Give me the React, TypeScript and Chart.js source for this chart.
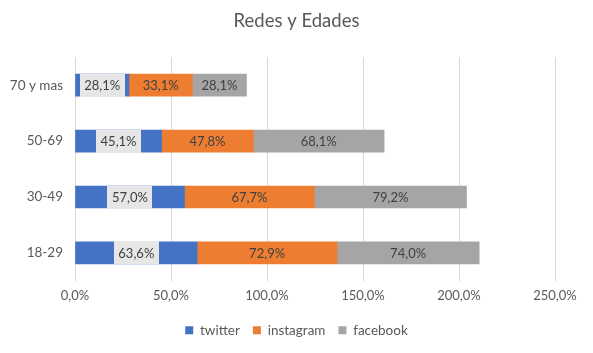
import React, { useEffect, useRef } from "react";
import { Chart, registerables } from "chart.js";

Chart.register(...registerables);

const categories = ["70 y mas", "50-69", "30-49", "18-29"];
const twitter = [28.1, 45.1, 57.0, 63.6];
const instagram = [33.1, 47.8, 67.7, 72.9];
const facebook = [28.1, 68.1, 79.2, 74.0];
const seriesNames = ["twitter", "instagram", "facebook"];
const xTicksMax = 250;
const xTickStep = 50;

const FONT = "Lato, 'Open Sans', sans-serif";
const fmt = (v: number) => v.toFixed(1).replace(".", ",") + "%";

const labelPlugin = {
  id: "segLabels",
  afterDatasetsDraw(chart: any) {
    const ctx = chart.ctx;
    ctx.save();
    ctx.font = `13px ${FONT}`;
    ctx.textAlign = "center";
    ctx.textBaseline = "middle";
    chart.data.datasets.forEach((ds: any, di: number) => {
      const meta = chart.getDatasetMeta(di);
      meta.data.forEach((bar: any, i: number) => {
        const v = ds.data[i];
        const props = bar.getProps(["x", "y", "base", "height"], true);
        const cx = (props.x + props.base) / 2;
        const cy = props.y;
        const text = fmt(v);
        if (di === 0) {
          const w = Math.round(ctx.measureText(text).width + 9);
          const top = cy - props.height / 2;
          const y0 = Math.floor(top);
          const y1 = Math.ceil(top + props.height);
          ctx.fillStyle = "#E7E6E6";
          ctx.fillRect(Math.round(cx - w / 2), y0, w, y1 - y0);
        }
        ctx.fillStyle = "#404040";
        ctx.fillText(text, cx, cy + 1);
      });
    });
    ctx.restore();
  },
};

export default function App() {
  const ref = useRef<HTMLCanvasElement>(null);
  useEffect(() => {
    const chart = new Chart(ref.current!, {
      type: "bar",
      data: {
        labels: categories,
        datasets: [
          { label: seriesNames[0], data: twitter, backgroundColor: "#4472C4" },
          { label: seriesNames[1], data: instagram, backgroundColor: "#ED7D31" },
          { label: seriesNames[2], data: facebook, backgroundColor: "#A5A5A5" },
        ],
      },
      options: {
        indexAxis: "y",
        animation: false,
        responsive: false,
        devicePixelRatio: 1,
        datasets: { bar: { barThickness: 22 } },
        layout: { padding: { left: 0, right: 0, top: 0, bottom: 6 } },
        scales: {
          x: {
            stacked: true,
            min: 0,
            max: xTicksMax,
            ticks: {
              stepSize: xTickStep,
              color: "#595959",
              font: { family: FONT, size: 13 },
              callback: (v: any) => fmt(Number(v)),
              padding: 7,
            },
            grid: { color: "#D9D9D9", drawTicks: false },
            border: { display: false },
          },
          y: {
            stacked: true,
            ticks: {
              color: "#595959",
              font: { family: FONT, size: 13.5 },
              padding: 12,
            },
            grid: { display: false, drawTicks: false },
            border: { display: false },
            afterFit: (s: any) => {
              s.width = 75;
            },
          },
          yRight: {
            type: "category",
            position: "right",
            display: true,
            ticks: { display: false },
            grid: { display: false, drawTicks: false },
            border: { display: false },
            afterFit: (s: any) => {
              s.width = 38;
            },
          },
        },
        plugins: {
          title: {
            display: true,
            text: "Redes y Edades",
            color: "#595959",
            font: { family: FONT, size: 18.5, weight: "normal" },
            padding: { top: 10, bottom: 25 },
          },
          legend: {
            position: "bottom",
            labels: {
              boxWidth: 8,
              boxHeight: 8,
              color: "#595959",
              font: { family: FONT, size: 13.5 },
              padding: 13,
            },
          },
          tooltip: { enabled: false },
        },
      },
      plugins: [labelPlugin],
    });
    return () => chart.destroy();
  }, []);
  return (
    <div style={{ position: "fixed", left: 0, top: 0, width: 593, height: 353, background: "#fff" }}>
      <canvas ref={ref} width={593} height={353} />
    </div>
  );
}
